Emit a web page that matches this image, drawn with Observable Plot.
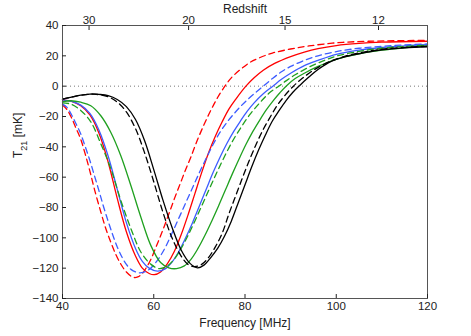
<!DOCTYPE html>
<html><head><meta charset="utf-8">
<script src="https://cdn.jsdelivr.net/npm/d3@7"></script>
<script src="https://cdn.jsdelivr.net/npm/@observablehq/plot@0.6"></script>
<style>body{margin:0;background:#fff} svg{display:block}</style>
</head><body><div id="chart"></div><script>
// [frequency MHz, T21 mK]
const redSolid = [[40,-9],[42,-10],[44,-12.9],[46,-19],[48,-31],[50,-50],[52,-74],[54,-96],[56,-112],[57.5,-120],[59,-123.5],[60.1,-124.3],[61.5,-122.5],[63,-117],[64.5,-109],[66,-98],[67.5,-85],[69,-71],[70.5,-57],[72,-44],[73.5,-33],[75,-23.5],[76.5,-15],[78,-8.5],[80.2,0],[82,5.5],[84,10.5],[86.5,15],[90,19.5],[93,22.5],[96,24.8],[100,26.8],[105,28.2],[110,29],[120,29.6]];
const redDashed = [[40,-12.4],[41,-15.5],[42,-21],[43,-28],[44,-35],[45,-45],[46,-56],[47,-68],[48.4,-83],[49.5,-94],[50.6,-103],[51.7,-111],[52.8,-117.4],[54,-122.5],[55.5,-126],[56.5,-125.8],[57.5,-123.5],[58.5,-119],[59.4,-114],[60.5,-106],[61.5,-98.7],[62.6,-90],[63.7,-81],[64.8,-72],[65.9,-63.5],[67,-55],[68.1,-47],[69.5,-36],[71,-25.5],[72.5,-16],[74,-7.5],[75.6,0],[77,5.5],[79,11],[81,15.5],[83,18.5],[86,21.8],[90,24.5],[94,26.5],[100,28.6],[107,29.6],[120,30.2]];
const blueSolid = [[40,-9],[42,-10],[44,-12.5],[46,-18],[48,-29],[50,-46],[52,-68],[54,-90],[56,-107],[57.5,-115.5],[59,-120],[60.8,-122],[62.5,-120.5],[64,-116],[65.5,-109],[67,-100],[68.5,-90],[70,-79],[71.5,-68],[73,-57],[74.5,-47],[76,-38],[77.5,-30],[79,-23],[80.5,-16.5],[82,-11],[84,-5],[86.1,0],[88,4.5],[90,8.5],[93,13.5],[96,17],[100,21],[105,23.8],[110,25.5],[115,26.6],[120,27.3]];
const blueDashed = [[40,-11.8],[41,-14],[42,-19],[43,-25],[44,-31.5],[45,-40],[46,-49],[47,-59],[48,-69],[49,-79.5],[50,-89],[51,-98],[52,-106],[53,-112.5],[54,-117.5],[55,-120.8],[56.2,-122.7],[57.3,-123],[58.5,-121.8],[59.5,-119.5],[61,-114],[62.5,-106.5],[64,-97],[65.5,-87],[67,-77],[68.5,-67],[70,-57],[71.5,-47.5],[73,-38.5],[74.5,-30.5],[76,-24],[77.5,-18.5],[79,-13.5],[80.5,-9],[82,-5],[84,0],[86,5],[88,9.5],[90,13],[93,17],[96,20],[100,22.8],[105,25],[110,26.3],[115,27.2],[120,27.8]];
const greenSolid = [[40,-10.3],[41.8,-9.6],[44,-10.6],[46.2,-12.9],[48.4,-19.5],[50.6,-30.5],[52.8,-46],[55,-65.7],[57.2,-86.6],[59.4,-105.3],[61.5,-116.3],[63.3,-119.8],[65,-120.3],[66.7,-118.5],[68.2,-114],[69.7,-107],[71.2,-98.5],[72.7,-89],[74.2,-79],[75.7,-68.5],[77.2,-58],[78.7,-48],[80.2,-38.5],[81.7,-30],[83.2,-22.5],[84.7,-15.5],[86.2,-9.5],[87.6,-4.5],[89,0],[91,5],[93,8.5],[96,13],[100,17.7],[105,21.3],[110,23.7],[115,25.3],[120,26.5]];
const greenDashed = [[40,-11],[41.8,-11.8],[44,-16],[46.2,-23.5],[48.4,-38],[50.6,-54.5],[52.8,-75.5],[55,-94],[57.2,-109.5],[59.4,-117.5],[61.2,-120.3],[63,-118.5],[64.5,-114],[66,-107],[67.5,-98.5],[69,-89],[70.5,-79],[72,-69],[73.5,-59],[75,-49.5],[76.5,-40.5],[78,-32.5],[79.5,-25.5],[81,-19],[82.5,-13.5],[84,-8.5],[85.5,-4],[87.4,0],[89,3.5],[91,7.5],[94,12.5],[97,16.5],[100,19.8],[105,23],[110,25],[115,26.2],[120,27]];
const blackSolid = [[40,-8.6],[42,-7.2],[44,-5.9],[46,-5.2],[47,-5.2],[48,-5.4],[50,-6.3],[52,-8.8],[54,-13.5],[56,-22],[58,-36],[60,-55],[62,-75],[64,-93],[66,-108],[68,-117],[69.6,-119.8],[71,-118],[72.5,-113],[74,-107],[75.5,-99],[77,-89],[78.5,-77],[80,-65],[81.5,-53],[83,-42],[84.5,-32],[86,-23],[87.5,-16],[89,-9.5],[90.5,-4],[92,0.5],[94,6],[96,11],[99,16.5],[102,19.5],[106,22],[110,24],[115,25.3],[120,26]];
const blackDashed = [[40,-8.6],[42,-7.2],[44,-6],[46,-5.3],[47,-5.3],[48,-5.6],[50,-7],[52,-10.5],[54,-17],[56,-28],[58,-44],[60,-63],[62,-83],[64,-100],[66,-112],[67.5,-117.5],[69,-119],[70.5,-117.5],[72,-113],[73.5,-106],[75,-97],[76.5,-84],[78,-72],[79.5,-60],[81,-48.5],[82.5,-38],[84,-28.5],[85.5,-20.5],[87,-13],[88.5,-7],[90.6,0],[92.5,5],[95,10.5],[98,15.5],[102,19.8],[106,22.5],[110,24.3],[115,25.6],[120,26.3]];

const xTicks = [40, 60, 80, 100, 120];
const yTicks = [-140, -120, -100, -80, -60, -40, -20, 0, 20, 40];
const redshiftTicks = [30, 20, 15, 12];
const restFreq = 1420.4; // MHz, 21 cm line

const series = [
  {pts: redDashed, color: "#ff0000", dash: "6,4"},
  {pts: redSolid, color: "#ff0000", dash: null},
  {pts: blueDashed, color: "#3d5cff", dash: "6,4"},
  {pts: blueSolid, color: "#3d5cff", dash: null},
  {pts: greenDashed, color: "#1fa01f", dash: "6,4"},
  {pts: greenSolid, color: "#1fa01f", dash: null},
  {pts: blackDashed, color: "#000000", dash: "6,4"},
  {pts: blackSolid, color: "#000000", dash: null}
];

const marks = [];
marks.push(Plot.ruleY([0], {stroke: "#777", strokeDasharray: "1,3", strokeWidth: 1}));
for (const s of series) {
  marks.push(Plot.line(s.pts, {x: d => d[0], y: d => d[1], stroke: s.color, strokeWidth: 1.3, strokeDasharray: s.dash, curve: "catmull-rom"}));
}
marks.push(Plot.frame({stroke: "#555"}));
marks.push(Plot.axisX(xTicks, {anchor: "bottom", tickSize: -4, tickPadding: 7, label: null, fontSize: 11.5}));
marks.push(Plot.axisY(yTicks, {anchor: "left", tickSize: -4, tickPadding: 8, label: null, fontSize: 11.5}));
marks.push(Plot.axisX(redshiftTicks.map(z => restFreq / (1 + z)), {anchor: "top", tickSize: -4, tickPadding: 6, label: null, fontSize: 11.5, tickFormat: f => String(Math.round(restFreq / f - 1))}));
marks.push(Plot.text(["Frequency [MHz]"], {frameAnchor: "bottom", lineAnchor: "middle", dy: 25, fontSize: 12}));
marks.push(Plot.text(["Redshift"], {frameAnchor: "top", lineAnchor: "middle", dy: -16, fontSize: 12}));
marks.push(Plot.text(["T21 [mK]"], {frameAnchor: "left", lineAnchor: "middle", dx: -44, dy: -4, rotate: -90, fontSize: 12}));

const chart = Plot.plot({
  width: 471, height: 336,
  marginLeft: 62, marginRight: 44, marginTop: 25, marginBottom: 38,
  x: {domain: [40, 120]},
  y: {domain: [-140, 40]},
  style: {fontFamily: "'Liberation Sans', Arial, sans-serif", color: "#222", background: "#fff"},
  marks
});
// subscript for T21
d3.select(chart).selectAll("text").each(function() {
  if (this.textContent === "T21 [mK]") {
    const t = d3.select(this);
    t.text(null);
    t.append("tspan").text("T");
    t.append("tspan").attr("baseline-shift", "sub").attr("font-size", "9").text("21");
    t.append("tspan").text(" [mK]");
  }
});
document.getElementById("chart").appendChild(chart);
</script></body></html>
